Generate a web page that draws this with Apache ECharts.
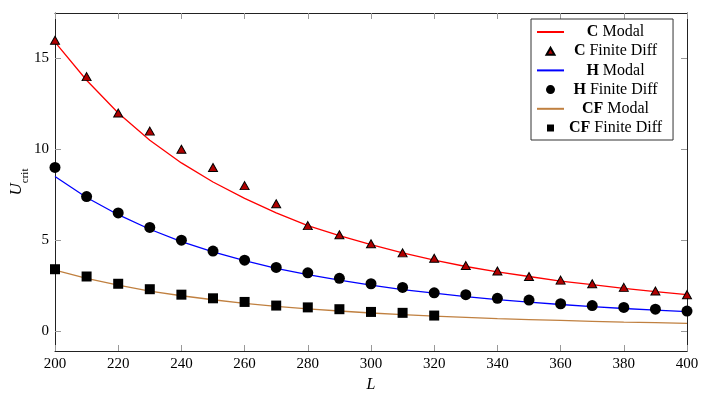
<!DOCTYPE html>
<html><head><meta charset="utf-8">
<script src="https://cdn.jsdelivr.net/npm/echarts@6/dist/echarts.min.js"></script>
<style>html,body{margin:0;padding:0;background:#fff}#c{width:712px;height:396px}</style>
</head><body><div id="c"></div>
<script>
// ---- data ----
const L = [200,210,220,230,240,250,260,270,280,290,300,310,320,330,340,350,360,370,380,390,400];
const cModal = [15.9,13.8,12.0,10.5,9.25,8.2,7.3,6.5,5.8,5.25,4.75,4.3,3.9,3.55,3.25,3.0,2.75,2.55,2.35,2.17,2.0];
const hModal = [8.5,7.35,6.4,5.6,4.92,4.35,3.87,3.45,3.1,2.8,2.52,2.28,2.08,1.89,1.73,1.59,1.46,1.34,1.24,1.15,1.07];
const cfModal = [3.35,2.9,2.52,2.2,1.94,1.72,1.52,1.36,1.22,1.1,0.99,0.9,0.82,0.75,0.68,0.63,0.58,0.53,0.49,0.46,0.42];
const cFD = [16,14,12,11,10,9,8,7,5.8,5.3,4.8,4.3,4.0,3.6,3.3,3.0,2.8,2.6,2.4,2.2,2.0];
const hFD = [9.0,7.4,6.5,5.7,5.0,4.4,3.9,3.5,3.2,2.9,2.6,2.4,2.1,2.0,1.8,1.7,1.5,1.4,1.3,1.2,1.1];
const cfFD = [3.4,3.0,2.6,2.3,2.0,1.8,1.6,1.4,1.3,1.2,1.05,1.0,0.85];
const xTicks = [200,220,240,260,280,300,320,340,360,380,400];
const yTicks = [0,5,10,15];
const names = ['C Modal','C Finite Diff','H Modal','H Finite Diff','CF Modal','CF Finite Diff'];

const FONT = '"Liberation Serif", "DejaVu Serif", serif';
const FS = 15;
const LFS = 16;
const pair = (xs, ys) => ys.map((v, i) => [xs[i], v]);

// measure legend text widths to center them
const ctx = document.createElement('canvas').getContext('2d');
function tw(bold, rest) {
  ctx.font = 'bold ' + LFS + 'px ' + FONT;
  let w = ctx.measureText(bold).width;
  ctx.font = LFS + 'px ' + FONT;
  w += ctx.measureText(rest).width;
  return w;
}
const parts = names.map(n => { const k = n.indexOf(' '); return [n.slice(0, k), n.slice(k)]; });
const widths = parts.map(p => tw(p[0], p[1]));
const maxW = Math.max.apply(null, widths);
const rich = { b: { fontWeight: 'bold', fontSize: LFS, fontFamily: FONT, color: '#000', lineHeight: 15 },
               n: { fontSize: LFS, fontFamily: FONT, color: '#000', lineHeight: 15 } };
parts.forEach((p, i) => { rich['p' + i] = { width: Math.max(0.01, (maxW - widths[i]) / 2), height: 1, lineHeight: 1 }; });

// legend icons: small marker centred inside the 27x9 icon box (invisible moveTo points fix the box)
const triIcon = 'path://M0,0M27,9M9.5,8L13.5,1L17.5,8Z';
const sqIcon = 'path://M0,0M27,9M10,1H17V8H10Z';
const hiddenSym = { color: 'rgba(0,0,0,0)', opacity: 0, borderWidth: 0 };
const legendData = [
  { name: names[0], itemStyle: hiddenSym },
  { name: names[1], icon: triIcon },
  { name: names[2], itemStyle: hiddenSym },
  { name: names[3], icon: 'circle' },
  { name: names[4], itemStyle: hiddenSym },
  { name: names[5], icon: sqIcon }
];

const chart = echarts.init(document.getElementById('c'), null, { renderer: 'canvas' });
const tickStyle = { color: '#999', width: 1 };
const axisLineStyle = { color: '#222', width: 1 };
chart.setOption({
  animation: false,
  backgroundColor: '#fff',
  grid: { left: 55, right: 25, top: 13, bottom: 45, containLabel: false, outerBoundsMode: 'none' },
  legend: {
    orient: 'vertical', left: 531, top: 19,
    padding: [5, 11, 4, 5], itemGap: 3.2,
    itemWidth: 27, itemHeight: 9,
    backgroundColor: '#fff', borderColor: '#333', borderWidth: 1, borderRadius: 0,
    selectedMode: false,
    data: legendData,
    textStyle: { fontSize: LFS, fontFamily: FONT, color: '#000', lineHeight: 15, rich: rich },
    formatter: function (name) {
      const i = names.indexOf(name);
      return '{p' + i + '|}{b|' + parts[i][0] + '}{n|' + parts[i][1] + '}';
    }
  },
  xAxis: [{
    type: 'value', min: 200, max: 400, interval: 20,
    name: 'L', nameLocation: 'middle', nameGap: 26,
    nameTextStyle: { fontFamily: FONT, fontSize: 16, fontStyle: 'italic', color: '#000' },
    axisLine: { show: true, onZero: false, lineStyle: axisLineStyle },
    axisTick: { show: true, inside: true, length: 6, lineStyle: tickStyle },
    axisLabel: { fontFamily: FONT, fontSize: FS, color: '#000', margin: 6, showMinLabel: true, showMaxLabel: true },
    splitLine: { show: false }
  }, {
    type: 'value', position: 'top', min: 200, max: 400, interval: 20,
    axisLine: { show: true, onZero: false, lineStyle: axisLineStyle },
    axisTick: { show: true, inside: true, length: 6, lineStyle: tickStyle },
    axisLabel: { show: false }, splitLine: { show: false }
  }],
  yAxis: [{
    type: 'value', min: -1.1, max: 17.5,
    name: '{i|U}{s|crit}', nameLocation: 'middle', nameGap: 30, nameRotate: 90, nameMoveOverlap: false,
    nameTextStyle: { rich: {
      i: { fontFamily: FONT, fontSize: 17, fontStyle: 'italic', color: '#000' },
      s: { fontFamily: FONT, fontSize: 11, color: '#000', verticalAlign: 'bottom', padding: [0, 0, -6, 0] }
    } },
    axisLine: { show: true, onZero: false, lineStyle: axisLineStyle },
    axisTick: { show: true, inside: true, length: 6, lineStyle: tickStyle, customValues: yTicks },
    axisLabel: { fontFamily: FONT, fontSize: FS, color: '#000', margin: 6, customValues: yTicks },
    splitLine: { show: false }
  }, {
    type: 'value', position: 'right', min: -1.1, max: 17.5,
    axisLine: { show: true, onZero: false, lineStyle: axisLineStyle },
    axisTick: { show: true, inside: true, length: 6, lineStyle: tickStyle, customValues: yTicks },
    axisLabel: { show: false, customValues: yTicks }, splitLine: { show: false }
  }],
  series: [
    { name: 'C Modal', type: 'line', symbol: 'none', data: pair(L, cModal), lineStyle: { color: '#ff0000', width: 1.3 }, itemStyle: { color: '#ff0000' }, z: 2 },
    { name: 'C Finite Diff', type: 'scatter', symbol: 'triangle', symbolSize: [9, 8], data: pair(L, cFD), itemStyle: { color: '#b00000', borderColor: '#000', borderWidth: 1, opacity: 1 }, z: 5 },
    { name: 'H Modal', type: 'line', symbol: 'none', data: pair(L, hModal), lineStyle: { color: '#0000ff', width: 1.3 }, itemStyle: { color: '#0000ff' }, z: 2 },
    { name: 'H Finite Diff', type: 'scatter', symbol: 'circle', symbolSize: 11, data: pair(L, hFD), itemStyle: { color: '#000', opacity: 1 }, z: 5 },
    { name: 'CF Modal', type: 'line', symbol: 'none', data: pair(L, cfModal), lineStyle: { color: '#c08040', width: 1.3 }, itemStyle: { color: '#c08040' }, z: 2 },
    { name: 'CF Finite Diff', type: 'scatter', symbol: 'rect', symbolSize: 10, data: pair(L.slice(0, cfFD.length), cfFD), itemStyle: { color: '#000', opacity: 1 }, z: 5 }
  ]
});
</script>
</body></html>
